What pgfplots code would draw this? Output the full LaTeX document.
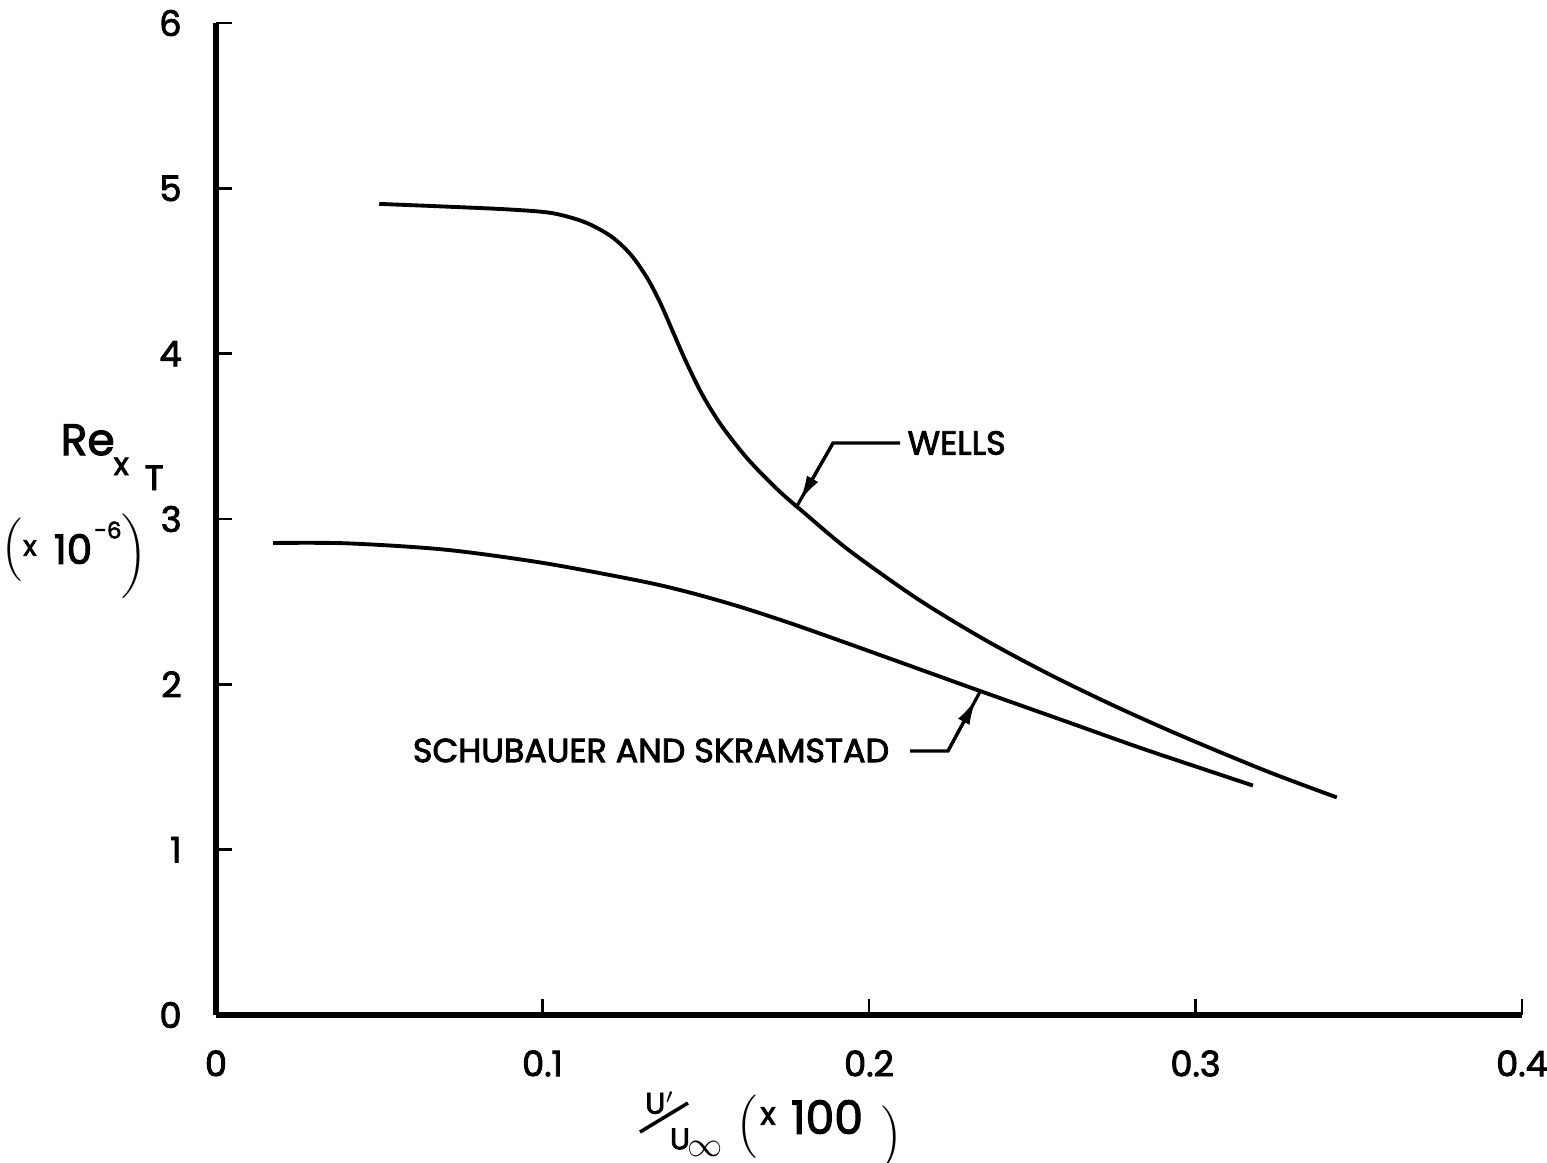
\documentclass[border=0pt]{standalone}
\usepackage{fontspec}
\setmainfont{Poppins}[FakeBold=2.5]
\usepackage{pgfplots}
\pgfplotsset{compat=1.18}
\usetikzlibrary{arrows.meta,calc}

\pgfplotstableread{
x y
0.0500 4.906
0.0700 4.890
0.0900 4.872
0.1030 4.850
0.1130 4.795
0.1210 4.710
0.1270 4.600
0.1320 4.460
0.1360 4.310
0.1400 4.130
0.1440 3.950
0.1490 3.750
0.1550 3.560
0.1630 3.360
0.1720 3.178
0.1800 3.040
0.1940 2.809
0.2147 2.519
0.2350 2.275
0.2550 2.063
0.2750 1.871
0.2960 1.686
0.3219 1.474
0.3433 1.316
}\wells

\pgfplotstableread{
x y
0.0175 2.855
0.0400 2.853
0.0700 2.815
0.1000 2.735
0.1300 2.625
0.1450 2.556
0.1600 2.472
0.1750 2.376
0.1900 2.272
0.2095 2.134
0.2340 1.960
0.2600 1.778
0.2850 1.603
0.3176 1.388
}\schub

\begin{document}
\begin{tikzpicture}
\begin{axis}[name=ax, scale only axis, width=130.6mm, height=99.2mm,
  xmin=0, xmax=0.4, ymin=0, ymax=6,
  axis lines=left,
  axis line style={-, line width=1.7pt},
  xtick={0,0.1,0.2,0.3,0.4}, xticklabels={0,0.1,0.2,0.3,0.4},
  ytick={0,1,2,3,4,5,6}, yticklabels={0,1,2,3,4,5,6},
  tick align=inside, major tick length=1.6mm,
  tick style={line width=0.8pt, black},
  minor tick num=0,
  yticklabel style={xshift=-2.2mm},
  xticklabel style={inner sep=0pt, yshift=-3.47mm},
  every tick label/.append style={font=\fontsize{10}{12}\selectfont},
  /pgf/number format/assume math mode=true,
  clip=false]
\addplot[black, line width=1.1pt, smooth] table[x=x,y=y] {\wells};
\addplot[black, line width=1.1pt, smooth] table[x=x,y=y] {\schub};
% Wells annotation
\draw[line width=0.9pt] (axis cs:0.2095,3.46) -- (axis cs:0.189,3.46) -- (axis cs:0.1776,3.067);
\draw[line width=0.9pt, -{Latex[length=2.6mm,width=1.3mm]}] (axis cs:0.189,3.46) -- ($(axis cs:0.189,3.46)!0.9!(axis cs:0.1776,3.067)$);
\node[anchor=west, inner sep=0pt, font=\fontsize{9.5}{11}\selectfont] at (axis cs:0.2116,3.46) {WELLS};
% Schubauer annotation
\draw[line width=0.9pt] (axis cs:0.2126,1.597) -- (axis cs:0.2242,1.597) -- (axis cs:0.234,1.955);
\draw[line width=0.9pt, -{Latex[length=2.6mm,width=1.3mm]}] (axis cs:0.2242,1.597) -- ($(axis cs:0.2242,1.597)!0.88!(axis cs:0.234,1.955)$);
\node[anchor=east, inner sep=0pt, font=\fontsize{9.5}{11}\selectfont] at (axis cs:0.2064,1.60) {SCHUBAUER AND SKRAMSTAD};
\end{axis}
% y label
\begin{scope}[shift={(ax.south west)}]
\node[anchor=base west, inner sep=0pt, font=\fontsize{12.5}{15}\selectfont] at (-15.6mm,56.0mm) {Re};
\node[anchor=base west, inner sep=0pt, font=\fontsize{9}{11}\selectfont] at (-10.3mm,54.0mm) {x};
\node[anchor=base west, inner sep=0pt, font=\fontsize{10}{12}\selectfont] at (-7.2mm,52.5mm) {T};
\node[inner sep=0pt] at (-20.4mm,46.5mm) {$\Big($};
\node[inner sep=0pt, font=\fontsize{8}{10}\selectfont] at (-18.6mm,46.7mm) {x};
\node[inner sep=0pt, font=\fontsize{11.5}{13}\selectfont] at (-14.3mm,46.6mm) {10};
\node[inner sep=0pt, font=\fontsize{6.5}{8}\selectfont] at (-10.8mm,48.5mm) {-6};
\node[inner sep=0pt] at (-8.2mm,45.9mm) {$\bigg)$};
% x label
\node[inner sep=0pt, font=\fontsize{8.5}{10}\selectfont] at (44.4mm,-8.8mm) {U$'$};
\draw[line width=1pt] (42.4mm,-11.7mm) -- (47.2mm,-8.8mm);
\node[inner sep=0pt, font=\fontsize{8.5}{10}\selectfont] at (46.4mm,-12.4mm) {U};
\node[inner sep=0pt] at (48.9mm,-13.4mm) {$\infty$};
\node[inner sep=0pt] at (53.1mm,-11.2mm) {$\Big($};
\node[inner sep=0pt, font=\fontsize{9}{11}\selectfont] at (55.2mm,-10.1mm) {x};
\node[inner sep=0pt, font=\fontsize{13}{15}\selectfont] at (61.1mm,-10.2mm) {100};
\node[inner sep=0pt] at (67.6mm,-12.3mm) {$\Big)$};
\end{scope}
\pgfresetboundingbox
\path[use as bounding box] ($(ax.south west)+(-21.6mm,-14.7mm)$) rectangle ($(ax.south west)+(133.1mm,101.5mm)$);
\end{tikzpicture}
\end{document}
